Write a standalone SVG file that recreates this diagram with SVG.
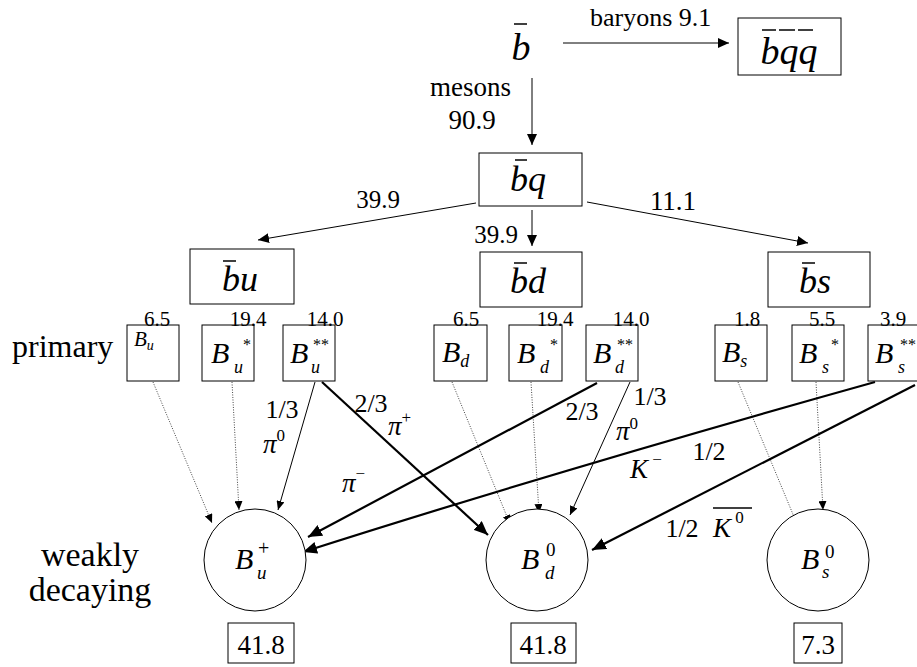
<svg xmlns="http://www.w3.org/2000/svg" width="917" height="667" viewBox="0 0 917 667" font-family="'Liberation Serif', 'Times New Roman', serif">
<style>
text, tspan{font-family:'Liberation Serif','Times New Roman',serif;fill:#000}
.m{font-style:italic}
.box{fill:#fff;stroke:#000;stroke-width:1}
.bar{stroke:#000;stroke-width:1.5}
.thin{stroke:#000;stroke-width:1;fill:none}
.thick{stroke:#000;stroke-width:2.2;fill:none}
.dot{stroke:#444;stroke-width:1;stroke-dasharray:1 1.5;fill:none}
.circ{fill:#fff;stroke:#000;stroke-width:1}
</style>
<defs>
<marker id="ah" markerUnits="userSpaceOnUse" markerWidth="12" markerHeight="10" refX="11" refY="5" orient="auto"><path d="M0,0 L11,5 L0,10 Z" fill="#000"/></marker>
<marker id="ahs" markerUnits="userSpaceOnUse" markerWidth="10" markerHeight="8" refX="9" refY="4" orient="auto"><path d="M0,0 L9,4 L0,8 Z" fill="#000"/></marker>
<marker id="ahb" markerUnits="userSpaceOnUse" markerWidth="15" markerHeight="12" refX="14" refY="6" orient="auto"><path d="M0,0 L14,6 L0,12 Z" fill="#000"/></marker>
</defs>

<g id="connectors">
<line class="thin" x1="563" y1="43" x2="729" y2="43" marker-end="url(#ah)"/>
<line class="thin" x1="532" y1="78" x2="532" y2="145" marker-end="url(#ah)"/>
<line class="thin" x1="476" y1="203" x2="258" y2="240" marker-end="url(#ah)"/>
<line class="thin" x1="532" y1="210" x2="532" y2="246" marker-end="url(#ah)"/>
<line class="thin" x1="587" y1="202" x2="808" y2="243" marker-end="url(#ah)"/>
<line class="dot" x1="153" y1="382" x2="212" y2="523" marker-end="url(#ahs)"/>
<line class="dot" x1="232" y1="382" x2="239" y2="510" marker-end="url(#ahs)"/>
<line class="thin" x1="315" y1="382" x2="278" y2="510" marker-end="url(#ahs)"/>
<line class="thick" x1="322" y1="382" x2="488" y2="535" marker-end="url(#ahb)"/>
<line class="dot" x1="452" y1="382" x2="510" y2="524" marker-end="url(#ahs)"/>
<line class="dot" x1="531" y1="382" x2="539" y2="513" marker-end="url(#ahs)"/>
<line class="thick" x1="597" y1="383" x2="308" y2="537" marker-end="url(#ahb)"/>
<line class="thin" x1="630" y1="382" x2="570" y2="515" marker-end="url(#ahs)"/>
<line class="dot" x1="738" y1="382" x2="797" y2="524" marker-end="url(#ahs)"/>
<line class="dot" x1="816" y1="382" x2="823" y2="510" marker-end="url(#ahs)"/>
<path class="thick" d="M875,382 Q560,470 303,552" marker-end="url(#ahb)"/>
<line class="thick" x1="915" y1="385" x2="592" y2="550" marker-end="url(#ahb)"/>
</g>

<g id="labels">
<text x="590" y="26" font-size="26">baryons 9.1</text>
<text x="511" y="96" font-size="27" text-anchor="end">mesons</text>
<text x="472" y="129" font-size="27" text-anchor="middle">90.9</text>
<text x="378" y="208" font-size="25" text-anchor="middle">39.9</text>
<text x="496" y="243" font-size="25" text-anchor="middle">39.9</text>
<text x="673" y="210" font-size="27" text-anchor="middle">11.1</text>
<text x="12" y="357" font-size="32">primary</text>
<text x="90" y="566" font-size="34" text-anchor="middle">weakly</text>
<text x="90" y="601" font-size="34" text-anchor="middle">decaying</text>
<text x="282" y="418" font-size="26" text-anchor="middle">1/3</text>
<text class="m" x="263" y="453" font-size="27">π<tspan font-style="normal" font-size="17" dy="-12">0</tspan></text>
<text x="371" y="412" font-size="26" text-anchor="middle">2/3</text>
<text class="m" x="388" y="435" font-size="27">π<tspan font-style="normal" font-size="17" dy="-12">+</tspan></text>
<text class="m" x="342" y="492" font-size="27">π<tspan font-style="normal" font-size="17" dy="-13">−</tspan></text>
<text x="582" y="420" font-size="26" text-anchor="middle">2/3</text>
<text x="650" y="405" font-size="26" text-anchor="middle">1/3</text>
<text class="m" x="616" y="440" font-size="27">π<tspan font-style="normal" font-size="17" dy="-11">0</tspan></text>
<text class="m" x="630" y="478" font-size="27">K<tspan font-style="normal" font-size="17" dy="-13"> −</tspan></text>
<text x="709" y="460" font-size="26" text-anchor="middle">1/2</text>
<text x="682" y="537" font-size="26" text-anchor="middle">1/2</text>
<text class="m" x="713" y="537" font-size="27">K<tspan font-style="normal" font-size="17" dy="-14"> 0</tspan></text>
<line class="bar" x1="713" y1="508" x2="752" y2="508"/>
</g>

<g id="b">
<text class="m" x="521" y="60" font-size="38" text-anchor="middle">b</text>
<line class="bar" x1="514" y1="24" x2="527" y2="24"/>
</g>
<g id="bqq">
<rect class="box" x="738" y="18" width="103" height="57"/>
<text class="m" x="789" y="64" font-size="38" text-anchor="middle">bqq</text>
<line class="bar" x1="762" y1="30" x2="776" y2="30"/>
<line class="bar" x1="779" y1="30" x2="795" y2="30"/>
<line class="bar" x1="798" y1="30" x2="813" y2="30"/>
</g>
<g id="bq">
<rect class="box" x="479" y="153" width="103" height="53"/>
<text class="m" x="528" y="191" font-size="36" text-anchor="middle">bq</text>
<line class="bar" x1="515" y1="160" x2="527" y2="160"/>
</g>
<g id="bu">
<rect class="box" x="190" y="249" width="104" height="55"/>
<text class="m" x="240" y="291" font-size="36" text-anchor="middle">bu</text>
<line class="bar" x1="223" y1="261" x2="236" y2="261"/>
</g>
<g id="bd">
<rect class="box" x="480" y="252" width="102" height="55"/>
<text class="m" x="528" y="293" font-size="36" text-anchor="middle">bd</text>
<line class="bar" x1="514" y1="263" x2="527" y2="263"/>
</g>
<g id="bs">
<rect class="box" x="768" y="252" width="102" height="55"/>
<text class="m" x="815" y="293" font-size="36" text-anchor="middle">bs</text>
<line class="bar" x1="802" y1="263" x2="815" y2="263"/>
</g>

<g id="Bu">
<rect class="box" x="127" y="325" width="52" height="56"/>
<text x="157" y="326" font-size="21" text-anchor="middle">6.5</text>
<text class="m" x="134" y="346" font-size="21">B<tspan font-size="14" dy="4">u</tspan></text>
</g>
<g id="Bus">
<rect class="box" x="202" y="325" width="52" height="56"/>
<text x="248" y="326" font-size="21" text-anchor="middle">19.4</text>
<text class="m" x="211" y="363" font-size="30">B</text>
<text class="m" x="234" y="373" font-size="18">u</text>
<text x="243" y="350" font-size="16">*</text>
</g>
<g id="Buss">
<rect class="box" x="283" y="325" width="52" height="56"/>
<text x="325" y="326" font-size="21" text-anchor="middle">14.0</text>
<text class="m" x="290" y="363" font-size="30">B</text>
<text class="m" x="311" y="373" font-size="18">u</text>
<text x="313" y="350" font-size="16">**</text>
</g>
<g id="Bd">
<rect class="box" x="434" y="325" width="53" height="56"/>
<text x="466" y="326" font-size="21" text-anchor="middle">6.5</text>
<text class="m" x="442" y="362" font-size="30">B<tspan font-size="18" dy="5">d</tspan></text>
</g>
<g id="Bds">
<rect class="box" x="509" y="325" width="53" height="56"/>
<text x="555" y="326" font-size="21" text-anchor="middle">19.4</text>
<text class="m" x="517" y="363" font-size="30">B</text>
<text class="m" x="540" y="373" font-size="18">d</text>
<text x="550" y="350" font-size="16">*</text>
</g>
<g id="Bdss">
<rect class="box" x="586" y="325" width="52" height="56"/>
<text x="631" y="326" font-size="21" text-anchor="middle">14.0</text>
<text class="m" x="593" y="363" font-size="30">B</text>
<text class="m" x="615" y="373" font-size="18">d</text>
<text x="617" y="350" font-size="16">**</text>
</g>
<g id="Bs">
<rect class="box" x="715" y="325" width="52" height="56"/>
<text x="747" y="326" font-size="21" text-anchor="middle">1.8</text>
<text class="m" x="722" y="362" font-size="30">B<tspan font-size="18" dy="5">s</tspan></text>
</g>
<g id="Bss">
<rect class="box" x="792" y="325" width="52" height="56"/>
<text x="822" y="326" font-size="21" text-anchor="middle">5.5</text>
<text class="m" x="799" y="363" font-size="30">B</text>
<text class="m" x="822" y="373" font-size="18">s</text>
<text x="831" y="350" font-size="16">*</text>
</g>
<g id="Bsss">
<rect class="box" x="868" y="325" width="54" height="56"/>
<text x="893" y="326" font-size="21" text-anchor="middle">3.9</text>
<text class="m" x="875" y="363" font-size="30">B</text>
<text class="m" x="898" y="373" font-size="18">s</text>
<text x="900" y="350" font-size="16">**</text>
</g>

<g id="Bup">
<circle class="circ" cx="255" cy="560" r="51"/>
<text class="m" x="235" y="569" font-size="30">B</text>
<text class="m" x="257" y="579" font-size="19">u</text>
<text x="258" y="555" font-size="20">+</text>
<rect class="box" x="228" y="623" width="66" height="40"/>
<text x="261" y="654" font-size="27" text-anchor="middle">41.8</text>
</g>
<g id="Bd0">
<circle class="circ" cx="537" cy="560" r="51"/>
<text class="m" x="521" y="569" font-size="30">B</text>
<text class="m" x="545" y="579" font-size="19">d</text>
<text x="546" y="556" font-size="19">0</text>
<rect class="box" x="511" y="623" width="65" height="40"/>
<text x="543" y="654" font-size="27" text-anchor="middle">41.8</text>
</g>
<g id="Bs0">
<circle class="circ" cx="818" cy="560" r="51"/>
<text class="m" x="801" y="569" font-size="30">B</text>
<text class="m" x="822" y="578" font-size="19">s</text>
<text x="825" y="558" font-size="19">0</text>
<rect class="box" x="794" y="623" width="48" height="40"/>
<text x="818" y="654" font-size="27" text-anchor="middle">7.3</text>
</g>
</svg>
